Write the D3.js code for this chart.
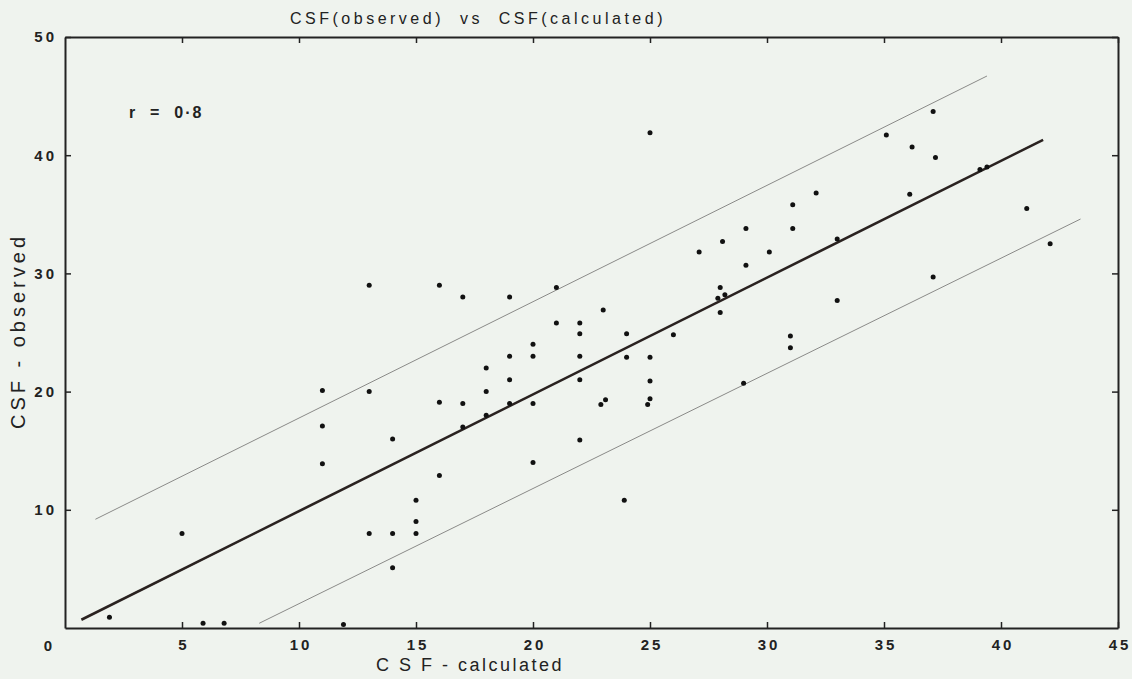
<!DOCTYPE html>
<html>
<head>
<meta charset="utf-8">
<script src="https://cdn.jsdelivr.net/npm/d3@7"></script>
<style>
  body { margin: 0; background: #eff3ee; }
  svg { display: block; font-family: "Liberation Sans", Arial, sans-serif; }
  text { white-space: pre; }
</style>
</head>
<body>
<div id="chart"></div>
<script>
// data: [CSF calculated, CSF observed]
var points = [
  [1.9,0.9],[5.9,0.4],[6.8,0.4],[11.9,0.3],[5.0,8.0],
  [11,20.1],[11,17.1],[11,13.9],[13,29],[13,20],[13,8],
  [14,16],[14,8],[14,5.1],[15,10.8],[15,9],[15,8],
  [16,29],[16,19.1],[16,12.9],[17,28],[17,19],[17,17],
  [18,22],[18,20],[18,18],[19,28],[19,23],[19,21],[19,19],
  [20,24],[20,23],[20,19],[20,14],[21,28.8],[21,25.8],
  [22,25.8],[22,24.9],[22,23],[22,21],[22,15.9],
  [23,26.9],[23.1,19.3],[22.9,18.9],[24,24.9],[24,22.9],[23.9,10.8],
  [25,41.9],[25,22.9],[25,20.9],[25,19.4],[24.9,18.9],[26,24.8],
  [27.1,31.8],[28.1,32.7],[28,28.8],[27.9,27.9],[28.2,28.2],[28,26.7],
  [29.1,33.8],[29.1,30.7],[29,20.7],[30.1,31.8],
  [31.1,35.8],[31.1,33.8],[31,24.7],[31,23.7],[32.1,36.8],
  [33,32.9],[33,27.7],[35.1,41.7],[36.2,40.7],[36.1,36.7],
  [37.1,43.7],[37.2,39.8],[37.1,29.7],[39.1,38.8],[39.4,39],
  [41.1,35.5],[42.1,32.5]
];
// regression line and the two limit lines (end points)
var fitLine = [[0.7,0.7],[41.8,41.3]];
var upperLine = [[1.3,9.2],[39.4,46.7]];
var lowerLine = [[8.3,0.4],[43.4,34.6]];

var xTicks = [5,10,15,20,25,30,35,40,45];
var yTicks = [10,20,30,40,50];

var W = 1132, H = 679;
var margin = {top: 37, right: 14, bottom: 51, left: 65};

var svg = d3.select("#chart").append("svg")
  .attr("width", W).attr("height", H);

var x = d3.scaleLinear().domain([0,45]).range([margin.left, W - margin.right]);
var y = d3.scaleLinear().domain([0,50]).range([H - margin.bottom, margin.top]);

//axes, ticks pointing inwards
var gx = svg.append("g").attr("transform", "translate(0," + y(0) + ")")
  .call(d3.axisBottom(x).tickValues(xTicks).tickSize(-6).tickSizeOuter(0).tickPadding(11));
var gy = svg.append("g").attr("transform", "translate(" + x(0) + ",0)")
  .call(d3.axisLeft(y).tickValues(yTicks).tickSize(-6).tickSizeOuter(0).tickPadding(12));
var gt = svg.append("g").attr("transform", "translate(0," + y(50) + ")")
  .call(d3.axisTop(x).tickValues(xTicks).tickSize(-6).tickSizeOuter(0).tickFormat(""));
var gr = svg.append("g").attr("transform", "translate(" + x(45) + ",0)")
  .call(d3.axisRight(y).tickValues(yTicks).tickSize(-6).tickSizeOuter(0).tickFormat(""));

svg.selectAll(".domain").attr("stroke", "#222").attr("stroke-width", 2);
svg.selectAll(".tick line").attr("stroke", "#222").attr("stroke-width", 1.5);
svg.selectAll(".tick text")
  .attr("font-size", 15).attr("font-weight", "bold")
  .attr("letter-spacing", "3px").attr("fill", "#222")
  .attr("font-family", "Liberation Sans, Arial, sans-serif");
gy.selectAll(".tick text").attr("x", -8);
gx.selectAll(".tick text").attr("dx", "1.5px");

// shared zero in the corner
svg.append("text").text("0")
  .attr("x", 48).attr("y", 651)
  .attr("text-anchor", "middle")
  .attr("font-size", 15).attr("font-weight", "bold").attr("fill", "#222");

var line = d3.line().x(function(d){ return x(d[0]); }).y(function(d){ return y(d[1]); });

svg.append("path").datum(upperLine).attr("d", line)
  .attr("fill", "none").attr("stroke", "#8a8a88").attr("stroke-width", 1);
svg.append("path").datum(lowerLine).attr("d", line)
  .attr("fill", "none").attr("stroke", "#8a8a88").attr("stroke-width", 1);
svg.append("path").datum(fitLine).attr("d", line)
  .attr("fill", "none").attr("stroke", "#2a2220").attr("stroke-width", 2.6);

svg.selectAll("circle.pt").data(points).enter().append("circle")
  .attr("class", "pt")
  .attr("cx", function(d){ return x(d[0]); })
  .attr("cy", function(d){ return y(d[1]); })
  .attr("r", 2.5)
  .attr("fill", "#111");

// texts
svg.append("text").text("CSF(observed)  vs  CSF(calculated)")
  .attr("x", 478).attr("y", 24).attr("text-anchor", "middle")
  .attr("font-size", 16).attr("letter-spacing", "3.5px").attr("fill", "#222");

svg.append("text").text("r  =  0·8")
  .attr("x", 129).attr("y", 118)
  .attr("font-size", 16).attr("font-weight", "bold")
  .attr("letter-spacing", "2px").attr("fill", "#222");

svg.append("text").text("C S F - calculated")
  .attr("x", 470).attr("y", 671).attr("text-anchor", "middle")
  .attr("font-size", 18).attr("letter-spacing", "2.5px").attr("fill", "#222");

svg.append("text").text("CSF - observed")
  .attr("transform", "translate(25,331) rotate(-90)")
  .attr("text-anchor", "middle")
  .attr("font-size", 20).attr("letter-spacing", "4px").attr("fill", "#222");
</script>
</body>
</html>
